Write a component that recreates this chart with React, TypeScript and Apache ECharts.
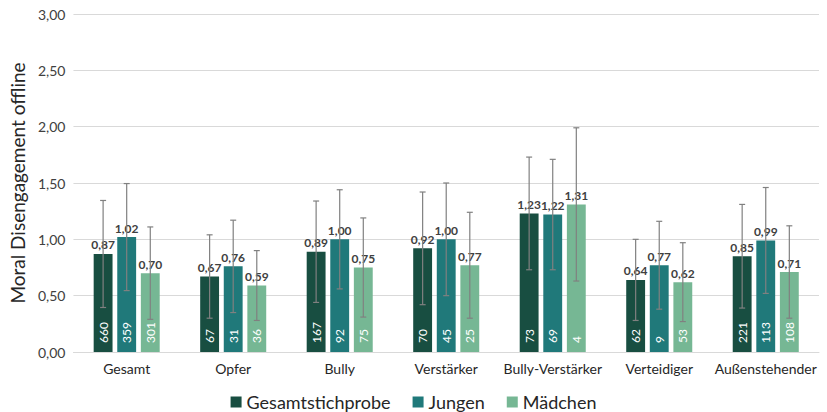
import React, { useEffect, useRef } from "react";
import * as echarts from "echarts";

const categories = ["Gesamt", "Opfer", "Bully", "Verstärker", "Bully-Verstärker", "Verteidiger", "Außenstehender"];
const seriesNames = ["Gesamtstichprobe", "Jungen", "Mädchen"];
const gesamtMean = [0.87, 0.67, 0.89, 0.92, 1.23, 0.64, 0.85];
const jungenMean = [1.02, 0.76, 1.0, 1.0, 1.22, 0.77, 0.99];
const maedchenMean = [0.7, 0.59, 0.75, 0.77, 1.31, 0.62, 0.71];
const gesamtSD = [0.475, 0.37, 0.45, 0.5, 0.5, 0.36, 0.46];
const jungenSD = [0.475, 0.41, 0.44, 0.5, 0.49, 0.39, 0.47];
const maedchenSD = [0.41, 0.31, 0.44, 0.47, 0.68, 0.35, 0.41];
const gesamtN = [660, 67, 167, 70, 73, 62, 221];
const jungenN = [359, 31, 92, 45, 69, 9, 113];
const maedchenN = [301, 36, 75, 25, 4, 53, 108];
const colors = ["#184e41", "#20797a", "#76b794"];

const FONT = "Lato, 'Open Sans', sans-serif";
const CAT_GAP = 0.38;
const BAR_GAP = 0.25;

const fmt = (v: number) => v.toFixed(2).replace(".", ",");

export default function App() {
  const ref = useRef<HTMLDivElement>(null);
  useEffect(() => {
    if (!ref.current) return;
    document.body.style.margin = "0";
    const chart = echarts.init(ref.current, undefined, { renderer: "svg" });
    const means = [gesamtMean, jungenMean, maedchenMean];
    const sds = [gesamtSD, jungenSD, maedchenSD];
    const ns = [gesamtN, jungenN, maedchenN];

    const barSeries = seriesNames.map((name, k) => ({
      name,
      type: "bar",
      data: means[k],
      itemStyle: { color: colors[k] },
      barGap: `${BAR_GAP * 100}%`,
      barCategoryGap: `${CAT_GAP * 100}%`,
      label: {
        show: true,
        position: "top",
        distance: 3,
        formatter: (p: any) => fmt(p.value),
        fontFamily: FONT,
        fontWeight: "bold",
        fontSize: 12,
        color: "#404040",
      },
    }));

    const errSeries = seriesNames.map((name, k) => ({
      name: name + "_err",
      type: "custom",
      z: 5,
      clip: false,
      data: categories.map((_, i) => [i, means[k][i], sds[k][i], ns[k][i]]),
      renderItem: (params: any, api: any) => {
        const idx = api.value(0);
        const mean = api.value(1);
        const sd = api.value(2);
        const n = api.value(3);
        const catW = api.size([1, 0])[0];
        const bw = (catW * (1 - CAT_GAP)) / (3 + 2 * BAR_GAP);
        const off = (k - 1) * bw * (1 + BAR_GAP);
        const c = api.coord([idx, mean]);
        const x = c[0] + off;
        const top = api.coord([idx, mean + sd])[1];
        const bot = api.coord([idx, mean - sd])[1];
        const base = api.coord([idx, 0])[1];
        const st = { stroke: "#808080", lineWidth: 1.2 };
        return {
          type: "group",
          children: [
            { type: "line", shape: { x1: x, y1: top, x2: x, y2: bot }, style: st },
            { type: "line", shape: { x1: x - 3, y1: top, x2: x + 3, y2: top }, style: st },
            { type: "line", shape: { x1: x - 3, y1: bot, x2: x + 3, y2: bot }, style: st },
            {
              type: "text",
              x: x,
              y: base - 9,
              rotation: Math.PI / 2,
              style: {
                text: String(n),
                fill: "#ffffff",
                fontFamily: FONT,
                fontSize: 12,
                align: "left",
                verticalAlign: "middle",
              },
            },
          ],
        };
      },
    }));

    chart.setOption({
      animation: false,
      textStyle: { fontFamily: FONT },
      grid: { left: 70, right: 8, top: 14, bottom: 60, containLabel: false },
      legend: {
        data: seriesNames,
        top: 388,
        left: "center",
        icon: "rect",
        itemWidth: 11,
        itemHeight: 11,
        itemGap: 22,
        textStyle: { fontFamily: FONT, fontSize: 18, color: "#262626" },
      },
      xAxis: {
        type: "category",
        data: categories,
        axisTick: { show: false },
        axisLine: { lineStyle: { color: "#d9d9d9", width: 1 } },
        axisLabel: { fontFamily: FONT, fontSize: 14, color: "#262626", margin: 9, interval: 0 },
      },
      yAxis: {
        type: "value",
        min: 0,
        max: 3,
        interval: 0.5,
        name: "Moral Disengagement offline",
        nameLocation: "middle",
        nameGap: 46,
        nameTextStyle: { fontFamily: FONT, fontSize: 19, color: "#262626" },
        axisLabel: { formatter: (v: number) => fmt(v), fontFamily: FONT, fontSize: 14, color: "#404040", margin: 8 },
        splitLine: { lineStyle: { color: "#d9d9d9", width: 1 } },
        axisLine: { show: false },
        axisTick: { show: false },
      },
      series: [...barSeries, ...errSeries],
    });
    return () => chart.dispose();
  }, []);
  return <div ref={ref} style={{ width: 827, height: 412 }} />;
}
